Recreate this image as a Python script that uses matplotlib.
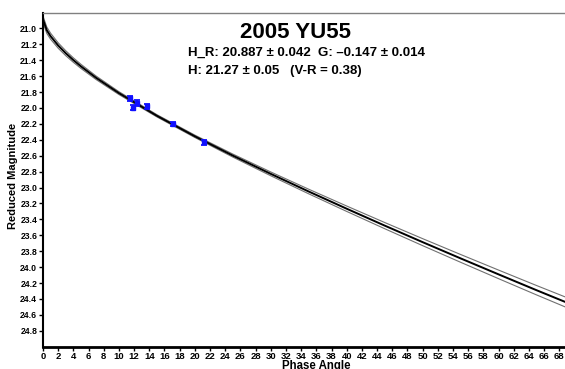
import matplotlib
matplotlib.use("Agg")
import matplotlib.pyplot as plt
import numpy as np

plt.rcParams["font.family"] = ["Liberation Sans", "DejaVu Sans"]

# H-G fit curve (phase angle in deg, reduced mag)
fit_phase = [0, 0.5, 1, 2, 3, 4, 5, 7, 10, 15, 20, 25, 30, 35, 40, 45, 50, 55, 60, 65, 70]
fit_mag = [20.887, 21.023, 21.098, 21.215, 21.312, 21.398, 21.477, 21.621, 21.813,
           22.098, 22.356, 22.598, 22.828, 23.050, 23.266, 23.478, 23.686, 23.890,
           24.091, 24.290, 24.485]
# half width of the uncertainty envelope
band_half = [0.042, 0.040, 0.038, 0.034, 0.031, 0.028, 0.026, 0.022, 0.018, 0.014,
             0.015, 0.019, 0.024, 0.029, 0.034, 0.039, 0.044, 0.049, 0.054, 0.059, 0.064]

# observations
obs_phase = [11.4, 11.8, 12.4, 13.7, 17.1, 21.2]
obs_mag = [21.88, 21.995, 21.94, 21.98, 22.20, 22.43]
obs_err = [0.035, 0.035, 0.035, 0.035, 0.03, 0.03]

fit_mag = np.array(fit_mag)
band_half = np.array(band_half)

fig = plt.figure(figsize=(5.65, 3.69), dpi=100)
ax = fig.add_axes([43 / 565, 1 - 346.7 / 369, 1 - 43 / 565 + 0.002, (346.7 - 13.3) / 369])

ax.plot(fit_phase, fit_mag + band_half, color="#707070", lw=0.8)
ax.plot(fit_phase, fit_mag - band_half, color="#707070", lw=0.8)
ax.plot(fit_phase, fit_mag, color="black", lw=1.4)

ax.errorbar(obs_phase, obs_mag, yerr=obs_err, fmt="s", color="#1010ff",
            markersize=2.5, elinewidth=1.3, capsize=2, capthick=1.3, zorder=5)

ax.set_xlim(0, 68.9)
ax.set_ylim(25.0, 20.81)
ax.set_xticks(np.arange(0, 69, 2))
ax.set_yticks(np.arange(21.0, 24.81, 0.2))
ax.set_yticklabels([f"{v:.1f}" for v in np.arange(21.0, 24.81, 0.2)])
for lab in ax.get_xticklabels() + ax.get_yticklabels():
    lab.set_fontweight("bold")
ax.tick_params(axis="both", length=3, width=1, direction="out")
ax.tick_params(axis="x", labelsize=6.8, pad=0.6)
ax.tick_params(axis="y", labelsize=6.2, pad=1.2)

ax.spines["top"].set_color("#808080")
ax.spines["top"].set_linewidth(1)
ax.spines["right"].set_visible(False)
ax.spines["left"].set_linewidth(1.5)
ax.spines["bottom"].set_linewidth(2)

fig.text(13 / 565, 1 - 176 / 369, "Reduced Magnitude", rotation=90,
         fontsize=8, fontweight="bold", ha="center", va="center")
fig.text(316 / 565, 1 - 365.5 / 369, "Phase Angle", fontsize=8.3,
         fontweight="bold", ha="center", va="center")

fig.text(295 / 565, 1 - 33 / 369, "2005 YU55", fontsize=16, fontweight="bold",
         ha="center", va="center")
fig.text(188 / 565, 1 - 53 / 369, "H_R: 20.887 \u00b1 0.042  G: \u20130.147 \u00b1 0.014",
         fontsize=9.5, fontweight="bold", ha="left", va="center")
fig.text(188 / 565, 1 - 71 / 369, "H: 21.27 \u00b1 0.05   (V-R = 0.38)",
         fontsize=9.5, fontweight="bold", ha="left", va="center")

fig.savefig("out.png", dpi=100)
